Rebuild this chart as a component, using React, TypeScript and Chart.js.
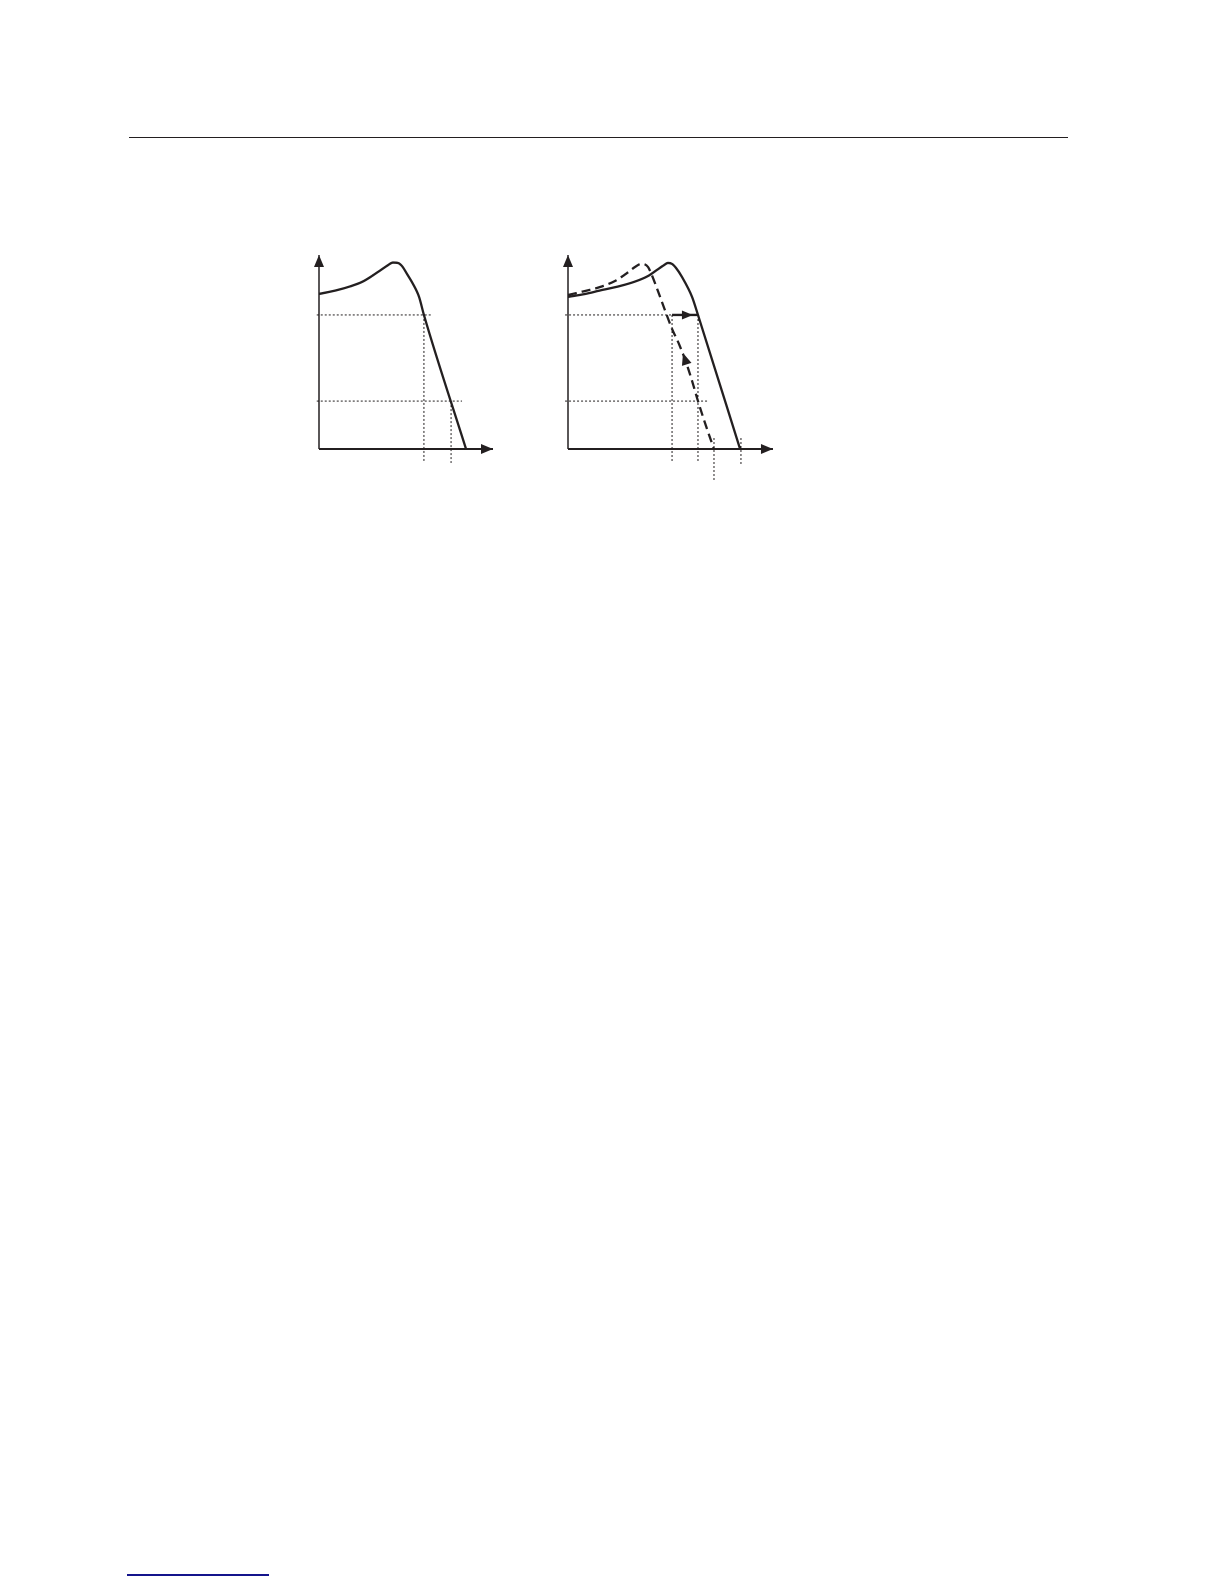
import React, { useEffect, useRef } from "react";
import { Chart, registerables } from "chart.js";

Chart.register(...registerables);

// ---------- data (schematic units: axis length ~100) ----------
// Left diagram: torque-speed curve
const leftCurve: number[][] = [
  [0, 79.9], [10.9, 82.0], [17.8, 83.8], [24.7, 86.1], [30.5, 89.2], [35.1, 92.0],
  [39.7, 94.8], [42.5, 96.1], [45.4, 95.9], [47.7, 94.3], [50.6, 90.2], [54.0, 85.1],
  [57.5, 78.4], [60.3, 69.1], [84.5, 0],
];
const leftGuidesH: number[][][] = [
  [[-1.3, 69.1], [64.9, 69.1]],
  [[-1.3, 24.7], [82.2, 24.7]],
];
const leftGuidesV: number[][][] = [
  [[60.3, 69.1], [60.3, -7.2]],
  [[75.9, 24.7], [75.9, -7.2]],
];
const leftAxisX: number[][] = [[0, 0], [100, 0]];
const leftAxisY: number[][] = [[0, 0], [0, 100]];

// Right diagram: original (solid) and shifted (dashed) curves
const rightSolid: number[][] = [
  [0, 78.4], [9.8, 79.9], [18.4, 81.7], [29.9, 84.0], [38.5, 86.3], [46.0, 89.2],
  [51.1, 92.3], [55.2, 94.8], [57.5, 95.9], [59.8, 95.4], [62.1, 93.3], [65.5, 88.7],
  [71.3, 78.4], [74.7, 69.1], [98.9, 0],
];
const rightDashed: number[][] = [
  [0, 79.4], [8.6, 81.2], [18.4, 83.5], [27.0, 86.6], [33.9, 90.7], [38.5, 93.8],
  [42.0, 95.4], [44.3, 95.1], [46.0, 93.8], [47.7, 90.7], [51.7, 81.4], [55.7, 71.6],
  [59.8, 61.9], [63.8, 54.1], [67.8, 44.8], [71.3, 35.1], [74.7, 24.7], [79.3, 11.9],
  [83.9, 0],
];
const rightShift: number[][] = [[59.8, 69.1], [74.7, 69.1]];
const rightGuidesH: number[][][] = [
  [[-1.7, 69.1], [74.7, 69.1]],
  [[-1.7, 24.7], [80.5, 24.7]],
];
const rightGuidesV: number[][][] = [
  [[59.8, 69.1], [59.8, -7.2]],
  [[74.7, 69.1], [74.7, -7.2]],
  [[83.9, 5.7], [83.9, -16.0]],
  [[99.4, 5.7], [99.4, -8.2]],
];
const rightAxisX: number[][] = [[0, 0], [117.8, 0]];
const rightAxisY: number[][] = [[0, 0], [0, 100]];

// arrowheads: tip, direction-from point
const leftArrows = [
  { tip: [0, 100], from: [0, 0], len: 12, half: 5 },
  { tip: [100, 0], from: [0, 0], len: 12, half: 5 },
];
const rightArrows = [
  { tip: [0, 100], from: [0, 0], len: 12, half: 5 },
  { tip: [117.8, 0], from: [0, 0], len: 12, half: 5 },
  { tip: [71.8, 69.1], from: [59.8, 69.1], len: 11, half: 4.5 },
  { tip: [66.1, 49.5], from: [71.3, 35.1], len: 12, half: 5 },
];

// ---------- styling / layout ----------
const INK = "#231f20";
const PX_X = 1.74;
const PX_Y = 1.94;

const toPts = (a: number[][]) => a.map(([x, y]) => ({ x, y }));

const line = (d: number[][], extra: any = {}) => ({
  data: toPts(d),
  showLine: true,
  borderColor: INK,
  backgroundColor: INK,
  pointRadius: 0,
  borderWidth: 2.3,
  fill: false,
  ...extra,
});

const dotted = (d: number[][]) =>
  line(d, { borderWidth: 1, borderDash: [2, 2] });

const arrowPlugin = {
  id: "arrowheads",
  afterDatasetsDraw(chart: any, _args: any, opts: any) {
    const { ctx } = chart;
    const xs = chart.scales.x;
    const ys = chart.scales.y;
    for (const a of opts.list || []) {
      const tx = xs.getPixelForValue(a.tip[0]);
      const ty = ys.getPixelForValue(a.tip[1]);
      const fx = xs.getPixelForValue(a.from[0]);
      const fy = ys.getPixelForValue(a.from[1]);
      const ang = Math.atan2(ty - fy, tx - fx);
      ctx.save();
      ctx.translate(tx, ty);
      ctx.rotate(ang);
      ctx.beginPath();
      ctx.moveTo(0, 0);
      ctx.lineTo(-a.len, a.half);
      ctx.lineTo(-a.len, -a.half);
      ctx.closePath();
      ctx.fillStyle = INK;
      ctx.fill();
      ctx.restore();
    }
  },
};

type DiagramProps = {
  left: number;
  top: number;
  width: number;
  height: number;
  ox: number;
  oy: number;
  datasets: any[];
  arrows: any[];
};

function Diagram({ left, top, width, height, ox, oy, datasets, arrows }: DiagramProps) {
  const ref = useRef<HTMLCanvasElement>(null);
  useEffect(() => {
    if (!ref.current) return;
    const xMin = (left - ox) / PX_X;
    const xMax = (left + width - ox) / PX_X;
    const yMax = (oy - top) / PX_Y;
    const yMin = (oy - (top + height)) / PX_Y;
    const chart = new Chart(ref.current, {
      type: "scatter",
      data: { datasets },
      options: {
        animation: false,
        responsive: false,
        devicePixelRatio: 2,
        events: [],
        layout: { padding: 0 },
        scales: {
          x: { type: "linear", min: xMin, max: xMax, display: false },
          y: { type: "linear", min: yMin, max: yMax, display: false },
        },
        plugins: {
          legend: { display: false },
          tooltip: { enabled: false },
          title: { display: false },
          arrowheads: { list: arrows },
        } as any,
      },
      plugins: [arrowPlugin as any],
    });
    return () => chart.destroy();
  }, []);
  return (
    <canvas
      ref={ref}
      width={width}
      height={height}
      style={{ position: "absolute", left, top, width, height }}
    />
  );
}

export default function App() {
  const leftSets = [
    ...leftGuidesH.map(dotted),
    ...leftGuidesV.map(dotted),
    line(leftAxisX, { borderWidth: 2 }),
    line(leftAxisY, { borderWidth: 1.5 }),
    line(leftCurve, { cubicInterpolationMode: "monotone" }),
  ];
  const rightSets = [
    ...rightGuidesH.map(dotted),
    ...rightGuidesV.map(dotted),
    line(rightAxisX, { borderWidth: 2 }),
    line(rightAxisY, { borderWidth: 1.5 }),
    line(rightShift),
    line(rightDashed, { borderDash: [9, 5], cubicInterpolationMode: "monotone" }),
    line(rightSolid, { cubicInterpolationMode: "monotone" }),
  ];
  return (
    <div style={{ position: "absolute", left: 0, top: 0, width: 1224, height: 1584, background: "#fff" }}>
      <div style={{ position: "absolute", left: 129, top: 136.5, width: 939, height: 1.5, background: INK }} />
      <Diagram left={300} top={240} width={210} height={240} ox={319} oy={449} datasets={leftSets} arrows={leftArrows} />
      <Diagram left={548} top={240} width={235} height={250} ox={568} oy={449} datasets={rightSets} arrows={rightArrows} />
      <div style={{ position: "absolute", left: 127, top: 1574, width: 142, height: 1.5, background: "#14148c" }} />
    </div>
  );
}
